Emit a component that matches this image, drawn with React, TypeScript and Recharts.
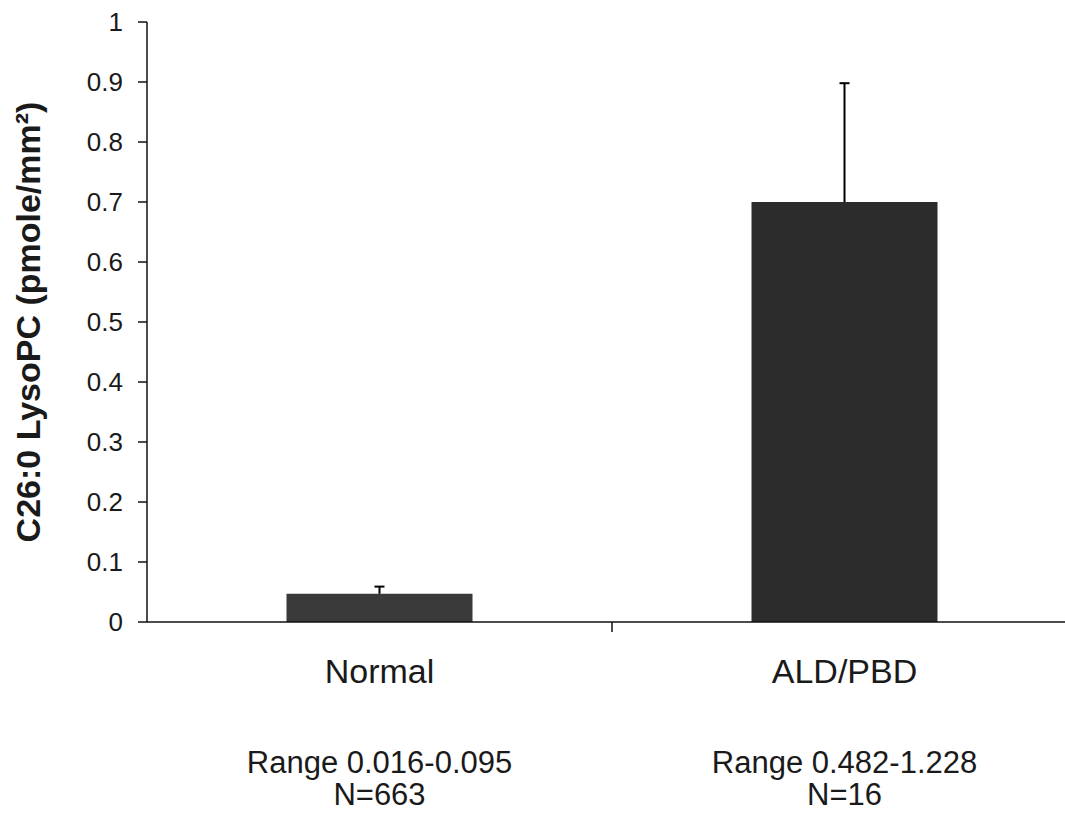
import React from "react";
import { BarChart, Bar, XAxis, YAxis, Cell } from "recharts";

// Groups and their values (pmole/mm2)
const GROUPS = ["Normal", "ALD/PBD"];
const MEANS = [0.047, 0.7];
const ERR_UP = [0.012, 0.198];
const RANGES = ["Range 0.016-0.095", "Range 0.482-1.228"];
const COUNTS = ["N=663", "N=16"];
const BAR_COLORS = ["#3a3a3a", "#2c2c2c"];
const Y_TICKS = [0, 0.1, 0.2, 0.3, 0.4, 0.5, 0.6, 0.7, 0.8, 0.9, 1];

const FONT = "'Liberation Sans', Arial, Helvetica, sans-serif";

const data = GROUPS.map((name, i) => ({
  name,
  value: MEANS[i],
  errUp: ERR_UP[i],
  range: RANGES[i],
  count: COUNTS[i],
}));

// upper-only error whisker, stacked on top of the mean bar
function UpperWhisker(props: any) {
  const { x, y, width, height } = props;
  if (!height) return null;
  const cx = x + width / 2;
  return (
    <g stroke="#000" strokeWidth={2}>
      <line x1={cx} y1={y + height} x2={cx} y2={y} />
      <line x1={cx - 5} y1={y} x2={cx + 5} y2={y} />
    </g>
  );
}

function GroupTick(props: any) {
  const { x, y, payload, index } = props;
  const row = data[index] || data.find((d) => d.name === payload.value);
  const half = payload.offset ?? 232.5;
  return (
    <g>
      {index === 0 && (
        <line x1={x + half} y1={y} x2={x + half} y2={y + 10} stroke="#111" strokeWidth={1.5} />
      )}
      <text x={x} y={y + 61} textAnchor="middle" fontSize={34} fill="#1a1a1a" fontFamily={FONT}>
        {payload.value}
      </text>
      <text x={x} y={y + 151} textAnchor="middle" fontSize={31} fill="#1a1a1a" fontFamily={FONT}>
        {row?.range}
      </text>
      <text x={x} y={y + 183} textAnchor="middle" fontSize={31} fill="#1a1a1a" fontFamily={FONT}>
        {row?.count}
      </text>
    </g>
  );
}

function YTitle(props: any) {
  const vb = props.viewBox || { x: 0, y: 22, width: 147, height: 600 };
  const cy = vb.y + vb.height / 2;
  return (
    <text
      transform={`translate(${vb.x + 40}, ${cy}) rotate(-90)`}
      textAnchor="middle"
      fontSize={34}
      fontWeight="bold"
      fill="#1a1a1a"
      fontFamily={FONT}
    >
      C26:0 LysoPC (pmole/mm²)
    </text>
  );
}

export default function App() {
  return (
    <div style={{ position: "absolute", left: 0, top: 0, width: 1065, height: 820, overflow: "hidden", background: "#fff" }}>
      <BarChart
        width={1077}
        height={820}
        data={data}
        margin={{ top: 22, right: 0, bottom: 0, left: 0 }}
        barCategoryGap="30%"
      >
        <XAxis
          dataKey="name"
          height={198}
          axisLine={{ stroke: "#111", strokeWidth: 1.5 }}
          tickLine={false}
          tickSize={0}
          tickMargin={0}
          tick={<GroupTick />}
          interval={0}
        />
        <YAxis
          width={147}
          domain={[0, 1]}
          ticks={Y_TICKS}
          interval={0}
          allowDataOverflow
          tickFormatter={(v: number) => String(v)}
          axisLine={{ stroke: "#111", strokeWidth: 1.5 }}
          tickLine={{ stroke: "#111", strokeWidth: 1.5 }}
          tickSize={9}
          tickMargin={15}
          tick={{ fontSize: 26, fill: "#1a1a1a", fontFamily: FONT }}
          label={<YTitle />}
        />
        <Bar dataKey="value" stackId="a" isAnimationActive={false}>
          {data.map((d, i) => (
            <Cell key={d.name} fill={BAR_COLORS[i]} />
          ))}
        </Bar>
        <Bar dataKey="errUp" stackId="a" fill="none" shape={<UpperWhisker />} isAnimationActive={false} />
      </BarChart>
    </div>
  );
}
